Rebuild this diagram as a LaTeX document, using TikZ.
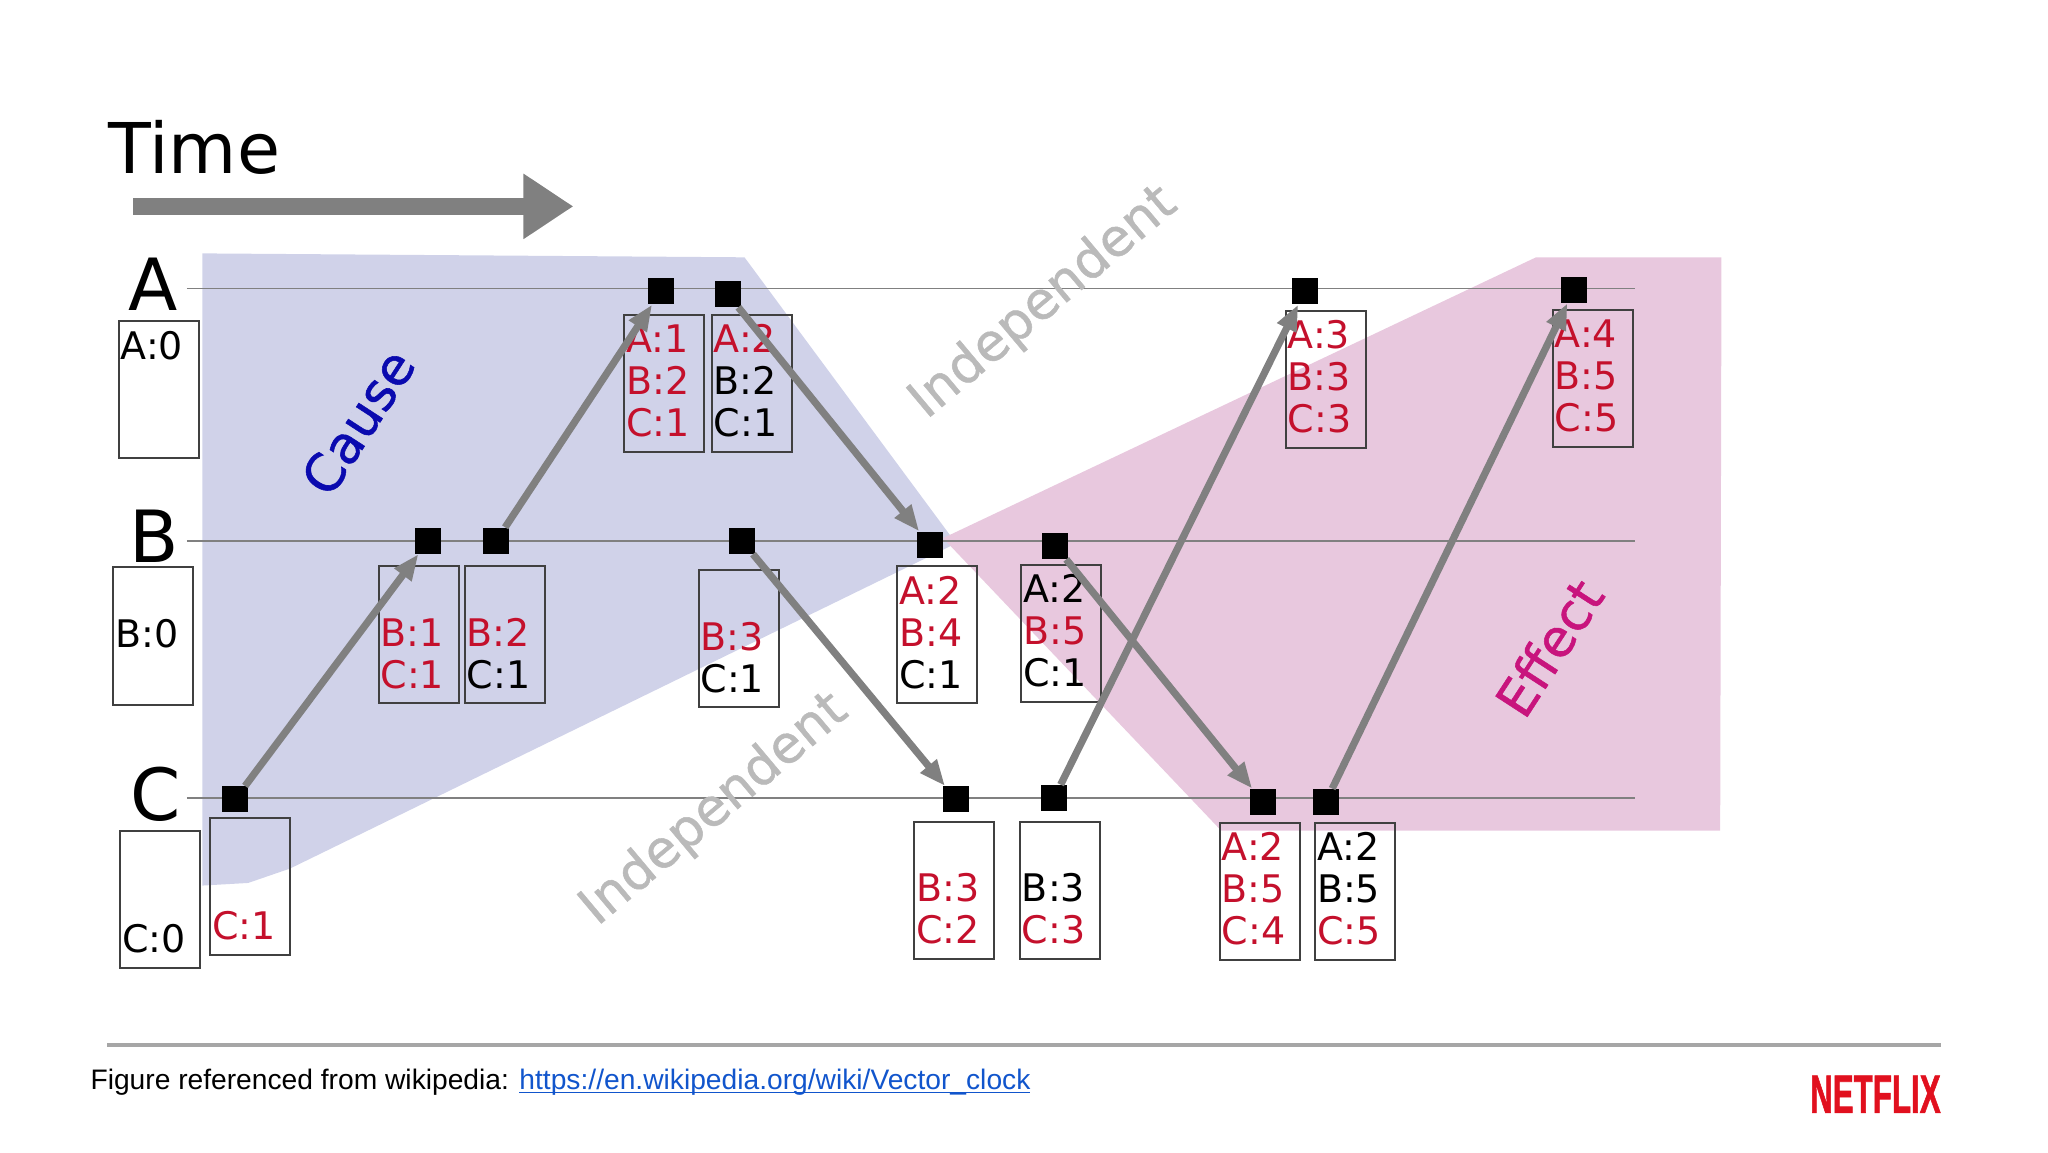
\documentclass[tikz,border=0pt]{standalone}
\usepackage{fontspec}
\setmainfont{DejaVu Sans}
\newfontfamily\captionfont{Liberation Sans}
\newfontfamily\slantfont[FakeBold=1]{DejaVu Sans}
\newfontfamily\logofont[UprightFont=* Bold,FakeBold=1.5]{Liberation Sans}
\usetikzlibrary{arrows.meta}
\definecolor{causefill}{RGB}{208,210,233}
\definecolor{effectfill}{RGB}{232,200,222}
\definecolor{stampred}{RGB}{196,16,44}
\definecolor{causeblue}{RGB}{10,10,175}
\definecolor{effectpink}{RGB}{200,20,125}
\definecolor{flowgray}{RGB}{128,128,128}
\definecolor{linkblue}{RGB}{17,85,204}
\definecolor{netflixred}{RGB}{225,16,30}
\newcommand{\rd}[1]{\textcolor{stampred}{#1}}
\newcommand{\rows}[3]{\rule{0pt}{19pt}#1\\\rule{0pt}{10pt}#2\\\rule[-7.6pt]{0pt}{7.6pt}#3}
\tikzset{
  stamp/.style={draw=black!75,line width=1pt,text width=38pt,minimum height=68.6pt,inner xsep=1pt,inner ysep=0pt,
    align=left,font=\fontsize{19}{21}\selectfont},
  event/.style={fill=black,minimum size=13pt,inner sep=0pt},
  process/.style={font=\fontsize{36}{36}\selectfont,anchor=base,inner sep=0pt},
  timeline/.style={draw=black!50,line width=0.8pt},
  message/.style={draw=flowgray,line width=3.6pt,-{Triangle[length=13pt,width=10pt]}},
  slanted/.style={font=\slantfont\fontsize{26}{26}\selectfont,inner sep=0pt}
}
\begin{document}
\begin{tikzpicture}[x=0.653061pt,y=-0.653061pt]
  \useasboundingbox (0,0) rectangle (1568,882);

  \fill[causefill] (155,194) -- (570,197) -- (732,416) -- (222,665) -- (190,676) -- (155,678) -- cycle;
  \fill[effectfill] (1176,197) -- (1318,197) -- (1317,636) -- (935,636) -- (722,412) -- cycle;

  \node[font=\fontsize{35}{35}\selectfont,anchor=base west,inner sep=0pt] (timelabel) at (83,133) {Time};
  \coordinate (timestart) at (102,158);
  \coordinate (timeend) at (439,158);
  \draw[draw=flowgray,line width=8.5pt,-{Triangle[length=25pt,width=31pt]}] (timestart) -- (timeend);

  \node[process] (procA) at (117,238) {A};
  \node[process] (procB) at (118,431) {B};
  \node[process] (procC) at (119,628) {C};

  \coordinate (endA) at (1252,221);
  \coordinate (endB) at (1252,414);
  \coordinate (endC) at (1252,611);
  \draw[timeline] (143,221) -- (endA);
  \draw[timeline] (143,414) -- (endB);
  \draw[timeline] (143,611) -- (endC);

  \node[stamp] (initA) at (121.5,298.5) {\rows{A:0}{}{}};
  \node[stamp] (initB) at (117.5,487) {\rows{}{B:0}{}};
  \node[stamp] (initC) at (122.5,688.5) {\rows{}{}{C:0}};
  \node[stamp] (stampCa) at (191.5,678.5) {\rows{}{}{\rd{C:1}}};
  \node[stamp] (stampBa) at (320.5,486) {\rows{}{\rd{B:1}}{\rd{C:1}}};
  \node[stamp] (stampBb) at (386.5,486) {\rows{}{\rd{B:2}}{C:1}};
  \node[stamp] (stampAa) at (508.5,293.5) {\rows{\rd{A:1}}{\rd{B:2}}{\rd{C:1}}};
  \node[stamp] (stampAb) at (575.5,293.5) {\rows{\rd{A:2}}{B:2}{C:1}};
  \node[stamp] (stampBc) at (565.5,489) {\rows{}{\rd{B:3}}{C:1}};
  \node[stamp] (stampBd) at (717.5,486) {\rows{\rd{A:2}}{\rd{B:4}}{C:1}};
  \node[stamp] (stampBe) at (812.5,485) {\rows{A:2}{\rd{B:5}}{C:1}};
  \node[stamp] (stampCb) at (730.5,681.5) {\rows{}{\rd{B:3}}{\rd{C:2}}};
  \node[stamp] (stampCc) at (811.5,681.5) {\rows{}{B:3}{\rd{C:3}}};
  \node[stamp] (stampCd) at (964.5,682.5) {\rows{\rd{A:2}}{\rd{B:5}}{\rd{C:4}}};
  \node[stamp] (stampCe) at (1037.5,682.5) {\rows{A:2}{B:5}{\rd{C:5}}};
  \node[stamp] (stampAc) at (1015,290.5) {\rows{\rd{A:3}}{\rd{B:3}}{\rd{C:3}}};
  \node[stamp] (stampAd) at (1219.5,289.5) {\rows{\rd{A:4}}{\rd{B:5}}{\rd{C:5}}};

  \node[event] (eventAa) at (506,223) {};
  \node[event] (eventAb) at (557,225) {};
  \node[event] (eventAc) at (999,223) {};
  \node[event] (eventAd) at (1205,222) {};
  \node[event] (eventBa) at (328,414) {};
  \node[event] (eventBb) at (380,414) {};
  \node[event] (eventBc) at (568,414) {};
  \node[event] (eventBd) at (712,417) {};
  \node[event] (eventBe) at (808,418) {};
  \node[event] (eventCa) at (180,612) {};
  \node[event] (eventCb) at (732,612) {};
  \node[event] (eventCc) at (807,611) {};
  \node[event] (eventCd) at (967,614) {};
  \node[event] (eventCe) at (1015,614) {};

  \draw[message] (eventCa) -- (eventBa);
  \draw[message] (eventBb) -- (eventAa);
  \draw[message] (eventAb) -- (eventBd);
  \draw[message] (eventBc) -- (eventCb);
  \draw[message] (eventBe) -- (eventCd);
  \draw[message] (eventCc) -- (eventAc);
  \draw[message] (eventCe) -- (eventAd);

  \node[slanted,rotate=57,text=causeblue] (causelabel) at (274,323) {Cause};
  \node[slanted,rotate=57,text=effectpink] (effectlabel) at (1186,496) {Effect};
  \node[slanted,rotate=40,text=black!27] (indepupper) at (799,232) {Independent};
  \node[slanted,rotate=40,text=black!27] (indeplower) at (547,620) {Independent};

  \coordinate (rulestart) at (82,800);
  \coordinate (ruleend) at (1486,800);
  \draw[draw=black!35,line width=1.6pt] (rulestart) -- (ruleend);

  \node[anchor=base west,inner sep=0pt,font=\captionfont\fontsize{14.1}{16}\selectfont] (caption) at (69,834)
    {Figure referenced from wikipedia: \textcolor{linkblue}{\underline{\smash{https://en.wikipedia.org/wiki/Vector\_clock}}}};
  \node[anchor=base east,inner sep=0pt,xscale=0.58,text=netflixred,font=\logofont\fontsize{27}{27}\selectfont] (logo) at (1486,852) {NETFLIX};
\end{tikzpicture}
\end{document}
